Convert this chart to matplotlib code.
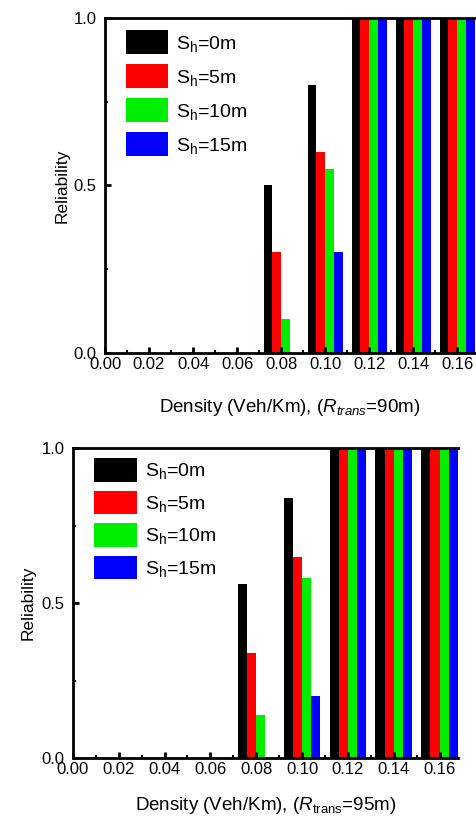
import numpy as np, matplotlib
matplotlib.use('Agg')
import matplotlib.pyplot as plt
from matplotlib.ticker import MultipleLocator

plt.rcParams.update({'font.family': 'Liberation Sans', 'mathtext.fontset': 'custom',
                     'mathtext.rm': 'Liberation Sans', 'mathtext.it': 'Liberation Sans:italic',
                     'axes.linewidth': 2})

density = [0.00, 0.02, 0.04, 0.06, 0.08, 0.10, 0.12, 0.14, 0.16]
labels = [r'S$_\mathregular{h}$=0m', r'S$_\mathregular{h}$=5m', r'S$_\mathregular{h}$=10m', r'S$_\mathregular{h}$=15m']
colors = ['#000000', '#FF0000', '#00EE00', '#0000FF']

# R_trans = 90m
top_sh0 = [0, 0, 0, 0, 0.50, 0.80, 1.0, 1.0, 1.0]
top_sh5 = [0, 0, 0, 0, 0.30, 0.60, 1.0, 1.0, 1.0]
top_sh10 = [0, 0, 0, 0, 0.10, 0.55, 1.0, 1.0, 1.0]
top_sh15 = [0, 0, 0, 0, 0.00, 0.30, 1.0, 1.0, 1.0]

# R_trans = 95m
bot_sh0 = [0, 0, 0, 0, 0.56, 0.84, 1.0, 1.0, 1.0]
bot_sh5 = [0, 0, 0, 0, 0.34, 0.65, 1.0, 1.0, 1.0]
bot_sh10 = [0, 0, 0, 0, 0.14, 0.58, 1.0, 1.0, 1.0]
bot_sh15 = [0, 0, 0, 0, 0.00, 0.20, 1.0, 1.0, 1.0]

fig = plt.figure(figsize=(4.76, 8.17), dpi=100)
ax1 = fig.add_axes([0.2206, 0.568, 0.777, 0.410])
ax2 = fig.add_axes([0.153, 0.0722, 0.809, 0.3794])

w = 0.004
x = np.array(density)
def draw(ax, series, xlabel, ylab_x, leg_anchor, lspace, xpad):
    for i, (vals, c, lab) in enumerate(zip(series, colors, labels)):
        ax.bar(x + (i - 1.5) * w, vals, w, color=c, linewidth=0, label=lab)
    ax.set_xlim(0, 0.168); ax.set_ylim(0, 1.0)
    ax.set_xticks(np.arange(0, 0.161, 0.02))
    ax.set_xticklabels([f'{v:.2f}' for v in np.arange(0, 0.161, 0.02)])
    ax.xaxis.set_minor_locator(MultipleLocator(0.01))
    ax.set_yticks([0, 0.5, 1.0]); ax.set_yticklabels(['0.0', '0.5', '1.0'])
    ax.yaxis.set_minor_locator(MultipleLocator(0.25))
    ax.tick_params(which='both', direction='in', labelsize=12, top=False, right=False)
    ax.tick_params(axis='x', pad=3)
    ax.tick_params(axis='y', pad=6)
    ax.tick_params(which='major', length=4, width=2)
    ax.tick_params(which='minor', length=2.5, width=1.5)
    ax.spines['right'].set_visible(False)
    ax.set_xlabel(xlabel, fontsize=13.5, labelpad=xpad)
    ax.set_ylabel('Reliability', fontsize=12.5)
    ax.yaxis.set_label_coords(ylab_x, 0.5)
    ax.legend(loc='upper left', bbox_to_anchor=leg_anchor, frameon=False, fontsize=14,
              handlelength=2.2, handleheight=1.5, labelspacing=lspace, handletextpad=0.4,
              borderpad=0.2, borderaxespad=0)

draw(ax1, [top_sh0, top_sh5, top_sh10, top_sh15], r'Density (Veh/Km), ($R_{trans}$=90m)',
     -0.095, (0.045, 0.975), 0.53, 18)
draw(ax2, [bot_sh0, bot_sh5, bot_sh10, bot_sh15], r'Density (Veh/Km), ($R_\mathregular{trans}$=95m)',
     -0.096, (0.045, 0.98), 0.45, 13)

plt.savefig('out.png', dpi=100)
